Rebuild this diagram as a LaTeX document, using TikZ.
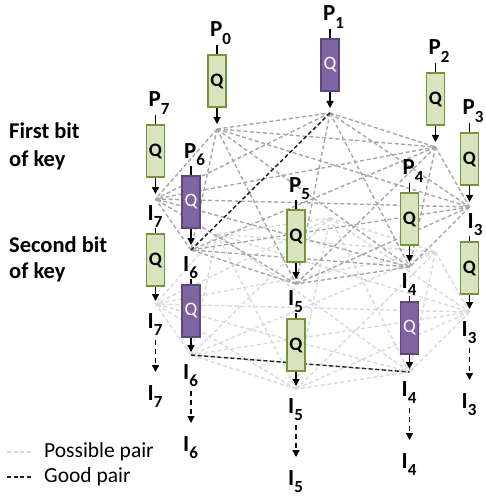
\documentclass[tikz,border=0pt]{standalone}
\usepackage{fontspec}
\setmainfont{Carlito}
\usetikzlibrary{arrows.meta,calc}
\definecolor{gfill}{HTML}{D7E4BD}
\definecolor{gline}{HTML}{77933C}
\definecolor{pfill}{HTML}{8064A2}
\definecolor{pline}{HTML}{5F497A}
\definecolor{octA}{HTML}{A6A6A6}
\definecolor{octB}{HTML}{D9D9D9}
\definecolor{goodc}{HTML}{222222}
\newcommand\bigf{\fontsize{23}{23}\selectfont\bfseries}
\newcommand\subf{\fontsize{17}{17}\selectfont\bfseries}
\newcommand\lbl[2]{#1\raisebox{-7.5pt}{\subf #2}}
\begin{document}
\begin{tikzpicture}[x=1pt,y=-1pt,
  lab/.style={inner sep=0pt, anchor=base west, font=\bigf},
  sidetxt/.style={inner sep=0pt, anchor=base west, font=\fontsize{22.5}{27}\selectfont\bfseries},
  legtxt/.style={inner sep=0pt, anchor=base west, font=\fontsize{21.5}{24}\selectfont},
  qbox/.style={rectangle, minimum width=18pt, minimum height=52pt, inner sep=0pt, line width=1.8pt},
  qboxg/.style={qbox, fill=gfill, draw=gline, text=black, font=\fontsize{19}{19}\selectfont\bfseries},
  qboxp/.style={qbox, fill=pfill, draw=pline, text=white, font=\fontsize{19}{19}\selectfont},
  octa/.style={draw=octA, line width=1.4pt, dash pattern=on 4pt off 2.6pt},
  octb/.style={draw=octB, line width=1.4pt, dash pattern=on 4pt off 2.6pt},
  goodpair/.style={draw=goodc, line width=1.4pt, dash pattern=on 4pt off 2.6pt},
  tick/.style={draw=black, line width=1.2pt},
  arr/.style={draw=black, line width=1.3pt, -{Triangle[width=7pt,length=7pt]}},
  darr/.style={draw=black, line width=1.3pt, dash pattern=on 5pt off 4pt, -{Triangle[width=7pt,length=7pt]}}
]
\useasboundingbox (0,0) rectangle (485,497);

% vertices of the two octagons
\foreach \i/\x/\v in {0/217/129,1/330/113,2/435.5/147,3/469.5/207,4/409.5/267,5/296/284,6/191/250,7/155.5/199}{
  \coordinate (va\i) at (\x,\v);
  \coordinate (vb\i) at (\x,\v+105);
}

% second octagon: all pairs
\foreach \i in {0,...,7}{
  \foreach \j in {\i,...,7}{
    \ifnum\i<\j \draw[octb] (vb\i) -- (vb\j); \fi
  }
}
\draw[goodpair] (vb6) -- (vb4);

% first octagon: all pairs
\foreach \i in {0,...,7}{
  \foreach \j in {\i,...,7}{
    \ifnum\i<\j \draw[octa] (va\i) -- (va\j); \fi
  }
}
\draw[goodpair] (va1) -- (va6);

% first stage
\foreach \i/\x/\v/\c in {0/217/129/g,1/330/113/p,2/435.5/147/g,3/469.5/207/g,4/409.5/267/g,5/296/284/g,6/191/250/p,7/155.5/199/g}{
  \node[qbox\c] (qa\i) at (\x,\v-48) {Q};
  \node[lab] (p\i) at (\x-7,\v-92) {\lbl{P}{\i}};
  \draw[tick] (qa\i.north) -- (qa\i.north |- p\i.south);
  \coordinate (ta\i) at (\x,\v-5);
  \draw[arr] (qa\i.south) -- (ta\i);
}

% second stage
\foreach \i/\x/\v/\c/\dx in {3/469.5/207/g/-2,4/409.5/267/p/-8,5/296/284/g/-8,6/191/250/p/-8,7/155.5/199/g/-8}{
  \node[lab] (ia\i) at (\x+\dx,\v+21) {\lbl{I}{\i}};
  \node[qbox\c] (qb\i) at (\x,\v+105-44) {Q};
  \draw[tick] (qb\i.north) -- (qb\i.north |- ia\i.south);
  \coordinate (tb\i) at (\x,\v+105-3);
  \draw[arr] (qb\i.south) -- (tb\i);
  \node[lab] (ib\i) at (\x-8,\v+105+24) {\lbl{I}{\i}};
  \coordinate (sd\i) at (\x,\v+105+36);
  \coordinate (ed\i) at (\x,\v+105+68);
  \draw[darr] (sd\i) -- (ed\i);
  \node[lab] (ic\i) at (\x-8,\v+105+96) {\lbl{I}{\i}};
}

% side texts
\node[sidetxt] (fb1) at (9,139) {First bit};
\node[sidetxt] (fb2) at (9,166) {of key};
\node[sidetxt] (sb1) at (9,252) {Second bit};
\node[sidetxt] (sb2) at (9,278) {of key};

% legend
\coordinate (la1) at (7,452);
\coordinate (la2) at (33,452);
\draw[octb] (la1) -- (la2);
\node[legtxt] (lt1) at (44,457) {Possible pair};
\coordinate (lb1) at (7,477);
\coordinate (lb2) at (33,477);
\draw[goodpair] (lb1) -- (lb2);
\node[legtxt] (lt2) at (44,482) {Good pair};
\end{tikzpicture}
\end{document}
